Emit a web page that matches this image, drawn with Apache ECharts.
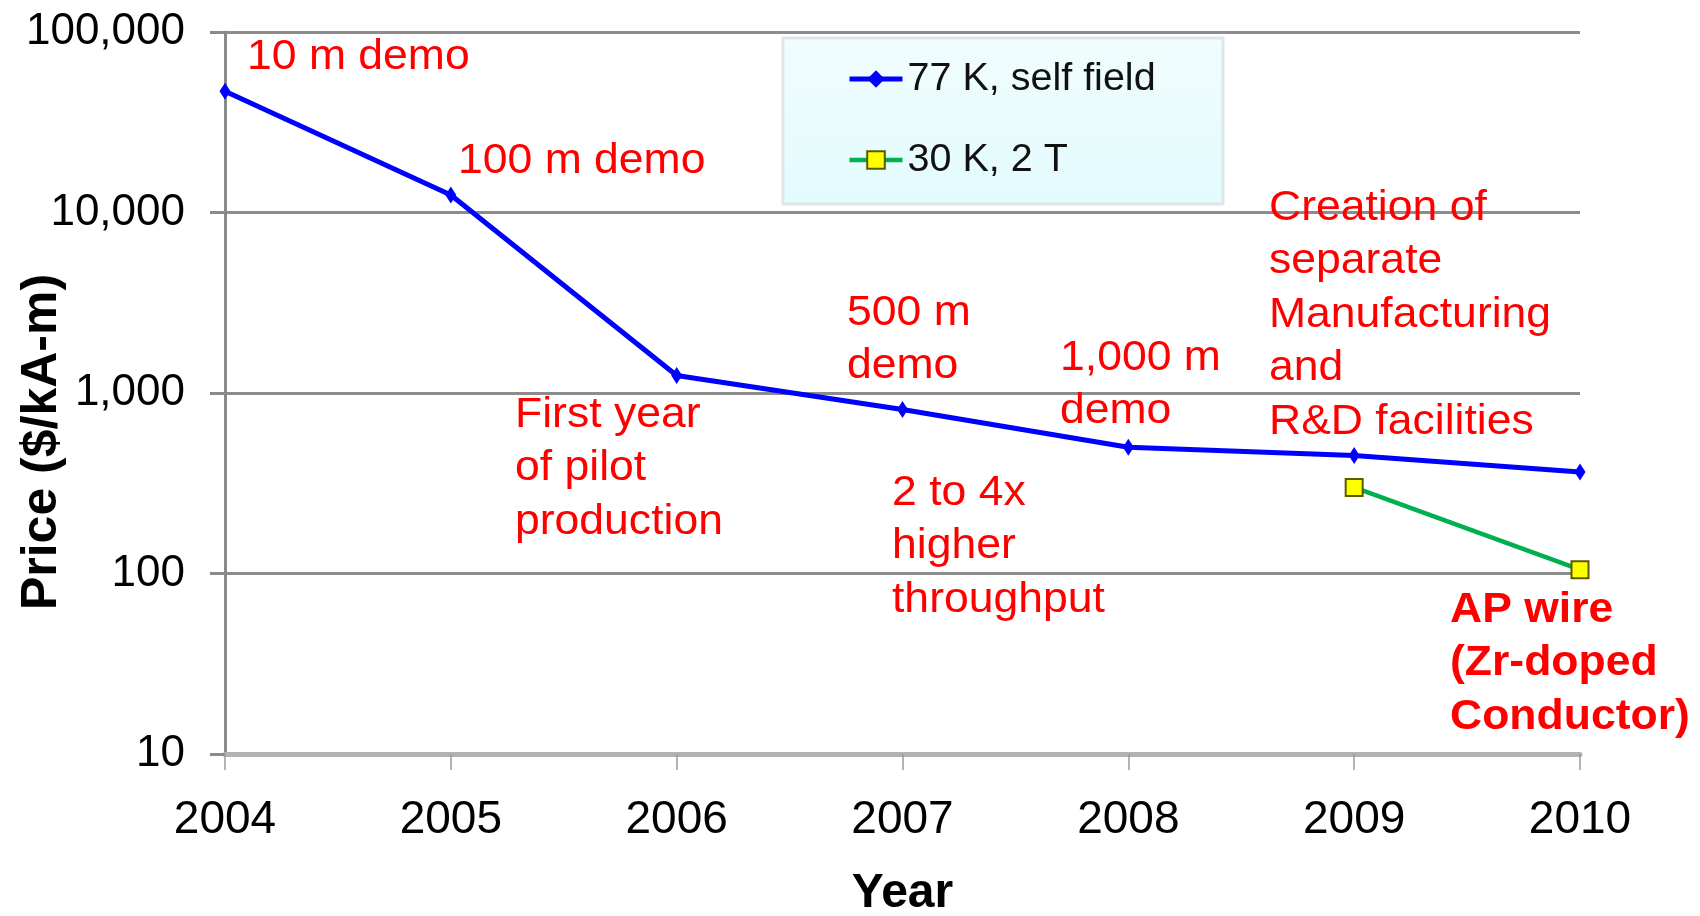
<!DOCTYPE html>
<html>
<head>
<meta charset="utf-8">
<title>Price ($/kA-m) by Year</title>
<script src="https://cdn.jsdelivr.net/npm/echarts@6/dist/echarts.min.js"></script>
<style>
  html, body { margin: 0; padding: 0; background: #ffffff; }
  #chart { width: 1700px; height: 916px; }
</style>
</head>
<body>
<div id="chart"></div>
<script>
// Years on the horizontal axis
const years = ['2004', '2005', '2006', '2007', '2008', '2009', '2010'];

// Price in $/kA-m
const selfField77K = [47000, 12500, 1250, 810, 500, 450, 365];
const field30K2T = ['-', '-', '-', '-', '-', 300, 105];

const seriesNames = ['77 K, self field', '30 K, 2 T'];

// Milestone notes written on the plot
const noteTexts = [
  '10 m demo',
  '100 m demo',
  'First year\nof pilot\nproduction',
  '500 m\ndemo',
  '2 to 4x\nhigher\nthroughput',
  '1,000 m\ndemo',
  'Creation of\nseparate\nManufacturing\nand\nR&D facilities',
  'AP wire\n(Zr-doped\nConductor)'
];

// Where each note sits: left edge, first baseline, bold
const noteLayout = [
  [247, 71, false],
  [458, 175, false],
  [515, 429, false],
  [847, 327, false],
  [892, 507, false],
  [1060, 372, false],
  [1269, 222, false],
  [1450, 624, true]
];

const FONT = '"Liberation Sans", Arial, Helvetica, sans-serif';
const NOTE_SIZE = 42;
const NOTE_LINE = 53.5;

const chart = echarts.init(document.getElementById('chart'), null, { renderer: 'canvas' });

const noteGraphics = noteTexts.map(function (txt, i) {
  const lay = noteLayout[i];
  return {
    type: 'text',
    x: lay[0],
    y: lay[1] - 0.33 * NOTE_SIZE - NOTE_LINE / 2,
    scaleX: 1.06,
    z: 100,
    style: {
      text: txt,
      fill: '#ff0000',
      font: (lay[2] ? 'bold ' : '') + NOTE_SIZE + 'px ' + FONT,
      lineHeight: NOTE_LINE,
      align: 'left',
      verticalAlign: 'top'
    }
  };
});

const option = {
  animation: false,
  backgroundColor: '#ffffff',
  grid: {
    left: 225, right: 120, top: 32, bottom: 162,
    containLabel: false,
    outerBoundsMode: 'none'
  },
  legend: {
    orient: 'vertical',
    left: 847,
    top: 59,
    padding: 0,
    itemWidth: 53,
    itemHeight: 22,
    itemGap: 41,
    data: seriesNames,
    lineStyle: { width: 'inherit' },
    textStyle: { fontFamily: FONT, fontSize: 39.5, lineHeight: 40, color: '#111' }
  },
  xAxis: {
    type: 'category',
    data: years,
    boundaryGap: false,
    name: 'Year',
    nameLocation: 'middle',
    nameGap: 116,
    nameTextStyle: { fontFamily: FONT, fontSize: 48, fontWeight: 'bold', color: '#000' },
    axisLine: { show: true, onZero: false, lineStyle: { color: '#b2b2b2', width: 5 } },
    axisTick: { show: true, inside: false, length: 16, lineStyle: { color: '#9a9a9a', width: 1.5 } },
    axisLabel: { fontFamily: FONT, fontSize: 46, color: '#000', margin: 43 },
    splitLine: { show: false }
  },
  yAxis: {
    type: 'log',
    logBase: 10,
    min: 10,
    max: 100000,
    axisLine: { show: true, lineStyle: { color: '#8a8a8a', width: 3 } },
    axisTick: { show: true, inside: false, length: 15, lineStyle: { color: '#8a8a8a', width: 3 } },
    axisLabel: {
      fontFamily: FONT,
      fontSize: 44,
      color: '#000',
      margin: 40,
      formatter: function (v) { return Math.round(v).toLocaleString('en-US'); }
    },
    splitLine: { show: true, lineStyle: { color: '#8c8c8c', width: 3 } }
  },
  series: [
    {
      name: seriesNames[0],
      type: 'line',
      data: selfField77K,
      symbol: 'diamond',
      symbolSize: [11, 17],
      lineStyle: { color: '#0000ff', width: 5 },
      itemStyle: { color: '#0000ff' },
      z: 5
    },
    {
      name: seriesNames[1],
      type: 'line',
      data: field30K2T,
      connectNulls: false,
      symbol: 'rect',
      symbolSize: 17,
      lineStyle: { color: '#00b050', width: 4.5 },
      itemStyle: { color: '#ffff00', borderColor: '#5a5a00', borderWidth: 2 },
      z: 6
    }
  ],
  graphic: [
    {
      type: 'rect',
      z: -1,
      shape: { x: 783, y: 38, width: 440, height: 166 },
      style: {
        fill: new echarts.graphic.LinearGradient(0, 0, 0, 1, [
          { offset: 0, color: '#f1fdfd' },
          { offset: 1, color: '#e2fbfd' }
        ]),
        stroke: '#dde7e9',
        lineWidth: 3
      }
    },
    {
      type: 'text',
      x: 42,
      y: 442,
      rotation: Math.PI / 2,
      z: 100,
      style: {
        text: 'Price ($/kA-m)',
        fill: '#000',
        font: 'bold 50px ' + FONT,
        align: 'center',
        verticalAlign: 'middle'
      }
    }
  ].concat(noteGraphics)
};

chart.setOption(option);
</script>
</body>
</html>
